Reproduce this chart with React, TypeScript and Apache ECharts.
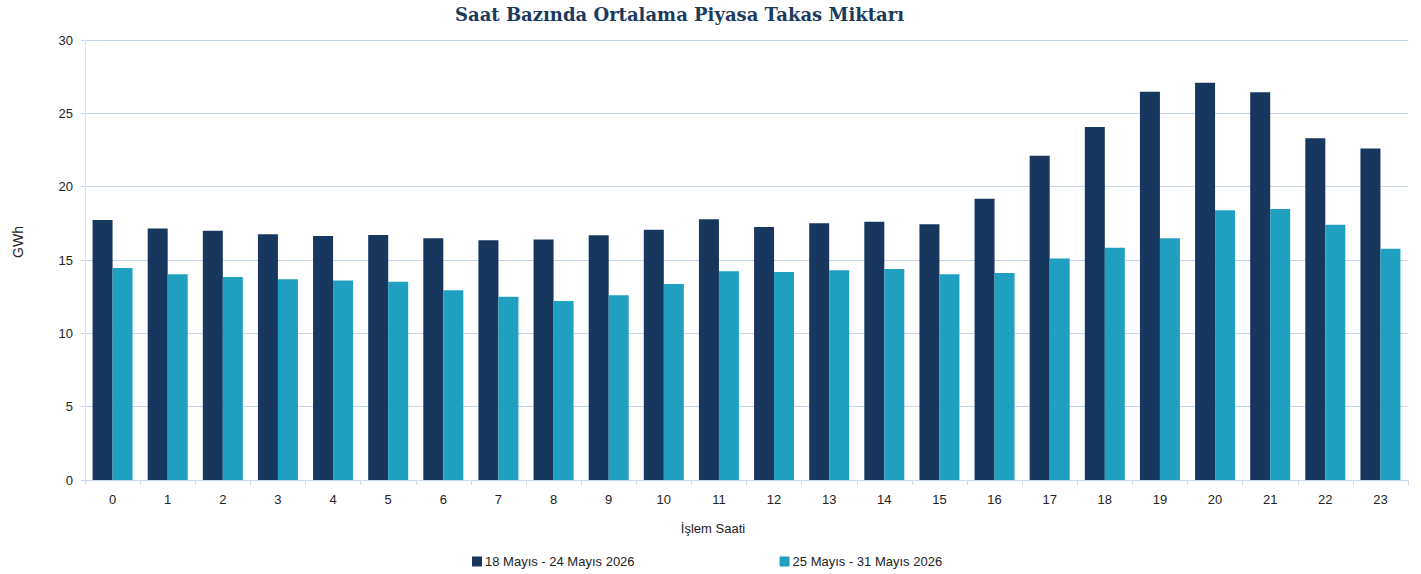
import React, { useEffect, useRef } from "react";
import * as echarts from "echarts";

const hours = ["0","1","2","3","4","5","6","7","8","9","10","11","12","13","14","15","16","17","18","19","20","21","22","23"];
const week1Name = "18 Mayıs - 24 Mayıs 2026";
const week2Name = "25 Mayıs - 31 Mayıs 2026";
const week1 = [17.73, 17.14, 17.0, 16.75, 16.64, 16.7, 16.48, 16.34, 16.39, 16.68, 17.07, 17.77, 17.25, 17.5, 17.61, 17.43, 19.18, 22.1, 24.07, 26.47, 27.08, 26.43, 23.3, 22.6];
const week2 = [14.45, 14.02, 13.84, 13.68, 13.61, 13.52, 12.93, 12.5, 12.2, 12.59, 13.36, 14.23, 14.18, 14.3, 14.39, 14.02, 14.11, 15.11, 15.84, 16.48, 18.39, 18.48, 17.41, 15.77];
const yTicks = { min: 0, max: 30, interval: 5 };
const titleText = "Saat Bazında Ortalama Piyasa Takas Miktarı";
const xName = "İşlem Saati";
const yName = "GWh";

const FONT = "'Liberation Sans', Arial, sans-serif";

export default function App() {
  const ref = useRef<HTMLDivElement>(null);
  useEffect(() => {
    if (!ref.current) return;
    const chart = echarts.init(ref.current, undefined, { renderer: "svg" });
    chart.setOption({
      animation: false,
      backgroundColor: "#ffffff",
      title: {
        text: titleText,
        left: 450,
        top: 0,
        textStyle: { fontFamily: "'DejaVu Serif', serif", fontWeight: "bold", fontSize: 18, color: "#1b3a5c" },
      },
      graphic: [
        { type: "text", x: 713, y: 528, style: { text: xName, fill: "#222", font: `13px ${FONT}`, textAlign: "center", textVerticalAlign: "middle" } },
        { type: "text", x: 18, y: 242, rotation: Math.PI / 2, style: { text: yName, fill: "#222", font: `14px ${FONT}`, textAlign: "center", textVerticalAlign: "middle" } },
      ],
      legend: {
        left: 467,
        top: 550,
        itemWidth: 10,
        itemHeight: 10,
        itemGap: 145,
        icon: "rect",
        textStyle: { fontFamily: FONT, fontSize: 13, color: "#222", padding: [0, 0, 0, -2] },
        data: [week1Name, week2Name],
      },
      grid: { left: 85, right: 13, top: 40, bottom: 94, containLabel: false },
      xAxis: {
        type: "category",
        data: hours,
        axisLine: { lineStyle: { color: "#c9d8ea" } },
        axisTick: { show: true, length: 5, lineStyle: { color: "#c9d8ea" } },
        axisLabel: { fontFamily: FONT, fontSize: 13, color: "#222", margin: 13 },
      },
      yAxis: {
        type: "value",
        min: yTicks.min,
        max: yTicks.max,
        interval: yTicks.interval,
        axisLine: { show: true, lineStyle: { color: "#dbe5f1" } },
        axisTick: { show: true, length: 4, lineStyle: { color: "#c9d8ea" } },
        axisLabel: { fontFamily: FONT, fontSize: 13, color: "#222", margin: 12 },
        splitLine: { lineStyle: { color: "#c5d6ea", width: 1 } },
      },
      series: [
        {
          name: week1Name,
          type: "bar",
          data: week1,
          barWidth: 20,
          barGap: "0%",
          itemStyle: { color: "#17375e" },
        },
        {
          name: week2Name,
          type: "bar",
          data: week2,
          barWidth: 20,
          barGap: "0%",
          itemStyle: { color: "#1fa0c0" },
        },
      ],
    });
    return () => chart.dispose();
  }, []);
  return <div ref={ref} style={{ position: "fixed", left: 0, top: 0, width: 1421, height: 574 }} />;
}
